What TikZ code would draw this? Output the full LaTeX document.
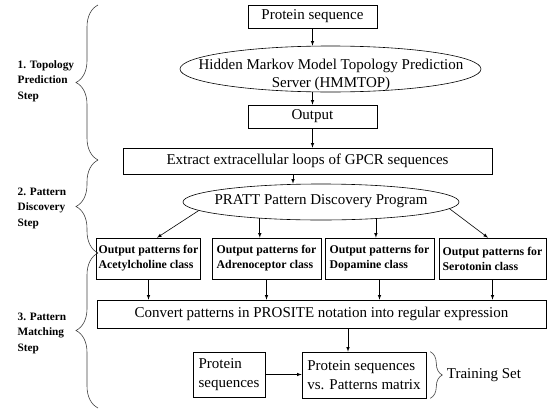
\documentclass[tikz,border=0pt]{standalone}
\usepackage{fontspec}
\setmainfont{Liberation Serif}
\usetikzlibrary{shapes,decorations.pathreplacing,calc}
\tikzstyle{every node}=[font=\fontsize{15}{18.5}\selectfont]
\tikzstyle{arrow} = [->,>=latex]
\tikzstyle{box} = [draw,rectangle,inner sep=2pt]
\tikzstyle{oval} = [draw,ellipse,inner sep=0pt]
\tikzstyle{outbox} = [draw,rectangle,inner sep=2pt,align=left,minimum height=41pt,font=\fontsize{11.8}{15}\selectfont\bfseries]
\tikzstyle{steplabel} = [align=left,anchor=west,font=\fontsize{11.3}{15.5}\selectfont\bfseries]
\tikzstyle{stepbrace} = [decorate,decoration={brace,amplitude=22pt},black!75]

\begin{document}
\begin{tikzpicture}[x=1pt,y=-1pt,line width=0.6pt]
\useasboundingbox (0,0) rectangle (547,410);

% topology prediction
\node[box,minimum width=129pt,minimum height=23pt] (seq) at (312.5,16.5) {Protein sequence};
\node[oval,minimum width=301pt,minimum height=46pt] (hmm) at (330.5,69) {};
\node[align=center] (hmmtxt) at (331,75) {Hidden Markov Model Topology Prediction\\Server (HMMTOP)};
\node[box,minimum width=129pt,minimum height=23pt] (out) at (312.5,116.5) {Output};
\node[box,minimum width=369pt,minimum height=26pt] (ext) at (307.5,161) {Extract extracellular loops of GPCR sequences};

\draw[arrow] (seq.south) -- (seq.south |- hmm.north);
\draw[arrow] (out.north |- hmm.south) -- (out.north);
\draw[arrow] (out.south) -- (out.south |- ext.north);

% pattern discovery
\node[oval,minimum width=276pt,minimum height=36pt] (pratt) at (321,202) {};
\node (pratttxt) at (321,201.5) {PRATT Pattern Discovery Program};
\draw[arrow] ([xshift=-14.5pt]ext.south) -- ([xshift=-14.5pt]ext.south |- pratt.north);

\foreach \i/\cx/\w/\cls in {1/148.5/103/Acetylcholine,2/266.5/109/Adrenoceptor,3/379.5/109/Dopamine,4/492.5/107/Serotonin}
{\node[outbox,minimum width=\w pt] (o\i) at (\cx,258.5) {Output patterns for\\\cls{} class};}

\draw[arrow] (pratt.184) -- ([xshift=8.5pt]o1.north);
\draw[arrow] (pratt.195) -- (pratt.195 |- o2.north);
\draw[arrow] (pratt.343) -- (pratt.343 |- o3.north);
\draw[arrow] (pratt.357) -- ([xshift=-4.5pt]o4.north);

% pattern matching
\node[box,minimum width=449pt,minimum height=28pt] (conv) at (321.5,314) {Convert patterns in PROSITE notation into regular expression};
\foreach \i in {1,...,4}
{\draw[arrow] (o\i.south) -- (o\i.south |- conv.north);}

\node[box,minimum width=72pt,minimum height=45pt,align=left] (pseq) at (229,374.5) {Protein\\sequences};
\node[box,minimum width=124pt,minimum height=46pt,align=left] (mat) at (364,375) {Protein sequences\\vs. Patterns matrix};
\draw[arrow] ([xshift=-16pt]mat.north |- conv.south) -- ([xshift=-16pt]mat.north);
\draw[arrow] (pseq.east) -- (pseq.east -| mat.west);

\draw[decorate,decoration={brace,amplitude=12pt},black!75] ([xshift=4pt]mat.north east) -- ([xshift=4pt]mat.south east) node[midway,right=13pt,black] (train) {Training Set};

% steps
\draw[stepbrace] (98,160) -- (98,5);
\draw[stepbrace] (98,253) -- (98,160);
\draw[stepbrace] (98,408) -- (98,253);
\node[steplabel] (s1) at (14,81) {1. Topology\\Prediction\\Step};
\node[steplabel] (s2) at (14,208) {2. Pattern\\Discovery\\Step};
\node[steplabel] (s3) at (14,333) {3. Pattern\\Matching\\Step};
\end{tikzpicture}
\end{document}
